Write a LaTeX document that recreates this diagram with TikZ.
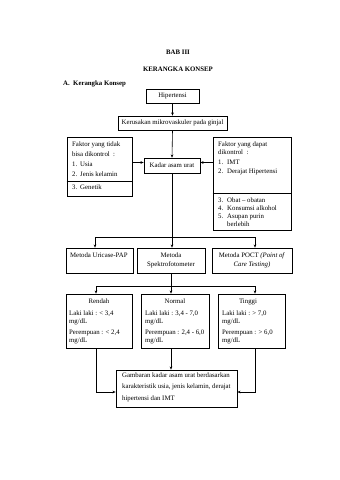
\documentclass[tikz,border=0pt]{standalone}
\usepackage{fontspec}
\setmainfont{Liberation Serif}
\usetikzlibrary{arrows.meta,fit}
\newcount\tlc
\newcommand\tline[3]{\global\advance\tlc by 1\relax\node[txt,anchor=base west] (t\the\tlc) at (#1,#2) {#3};}
\newcommand\tcen[3]{\global\advance\tlc by 1\relax\node[txt,anchor=base] (t\the\tlc) at (#1,#2) {#3};}
\begin{document}
\begin{tikzpicture}[x=1pt,y=-1pt,
  txt/.style={inner sep=0pt,font=\fontsize{6.8}{8}\selectfont},
  head/.style={inner sep=0pt,font=\bfseries\fontsize{6.8}{8}\selectfont},
  box/.style={draw,line width=0.6pt,inner sep=0pt,rectangle},
  ln/.style={line width=0.6pt},
  arr/.style={line width=0.6pt,-{Stealth[length=3.2pt,width=2.6pt]}}]
\useasboundingbox[fill=white] (0,0) rectangle (340,480);
% headings
\node[head,anchor=base] (bab) at (178,54.3) {BAB III};
\node[head,anchor=base] (kk) at (178,71.3) {KERANGKA KONSEP};
\node[head,anchor=base west] (sub) at (63,85.3) {A.\ \ Kerangka Konsep};
% boxes
\node[box,fit={(146,89)(199,103)},label={[txt]center:Hipertensi}] (hip) {};
\node[box,fit={(118,116)(227,130)},label={[txt]center:Kerusakan mikrovaskuler pada ginjal}] (ker) {};
\node[box,fit={(144,158)(200,173)},label={[txt]center:Kadar asam urat}] (kad) {};
\node[box,fit={(67,137)(132,196)}] (lb) {};
\node[box,fit={(213,137)(291,230)}] (rb) {};
\draw[ln] (lb.west |- 0,181) -- (lb.east |- 0,181);
\draw[ln] (rb.west |- 0,193) -- (rb.east |- 0,193);
\node[box,fit={(66,248)(133,273)}] (m1) {};
\node[box,fit={(137,248)(205,273)}] (m2) {};
\node[box,fit={(212,248)(292,273)}] (m3) {};
\node[box,fit={(66,294)(132,348)}] (ren) {};
\node[box,fit={(141,294)(209,348)}] (nor) {};
\node[box,fit={(218,294)(285,348)}] (tin) {};
\node[box,fit={(116,370)(237,407)}] (fin) {};
% left box text
\tline{72}{146.3}{Faktor yang tidak}
\tline{72}{156.3}{bisa dikontrol\ \ :}
\tline{72}{166.3}{1.}\tline{80}{166.3}{Usia}
\tline{72}{176.3}{2.}\tline{80}{176.3}{Jenis kelamin}
\tline{72}{189.3}{3.}\tline{80}{189.3}{Genetik}
% right box text
\tline{218}{146.3}{Faktor yang dapat}
\tline{218}{154.8}{dikontrol\ \ :}
\tline{218}{164.3}{1.}\tline{227}{164.3}{IMT}
\tline{218}{173.3}{2.}\tline{227}{173.3}{Derajat Hipertensi}
\tline{218}{202.3}{3.}\tline{227}{202.3}{Obat – obatan}
\tline{218}{210.3}{4.}\tline{227}{210.3}{Konsumsi alkohol}
\tline{218}{218.3}{5.}\tline{227}{218.3}{Asupan purin}
\tline{227}{226.3}{berlebih}
% method boxes
\tline{70}{257.3}{Metoda Uricase-PAP}
\tcen{171}{257.3}{Metoda}
\tcen{171}{266.3}{Spektrofotometer}
\tcen{252}{257.3}{Metoda POCT \textit{(Point of}}
\tcen{252}{266.3}{\textit{Care Testing)}}
% result boxes
\tcen{99}{303.3}{Rendah}
\tline{69}{315.3}{Laki laki : < 3,4}
\tline{69}{323.3}{mg/dL}
\tline{69}{334.3}{Perempuan : < 2,4}
\tline{69}{342.3}{mg/dL}
\tcen{175}{303.3}{Normal}
\tline{145}{315.3}{Laki laki : 3,4 - 7,0}
\tline{145}{323.3}{mg/dL}
\tline{145}{334.3}{Perempuan : 2,4 - 6,0}
\tline{145}{342.3}{mg/dL}
\tcen{248}{303.3}{Tinggi}
\tline{222}{315.3}{Laki laki : > 7,0}
\tline{222}{323.3}{mg/dL}
\tline{222}{334.3}{Perempuan : > 6,0}
\tline{222}{342.3}{mg/dL}
% final box
\tline{122}{377.3}{Gambaran kadar asam urat berdasarkan}
\tline{122}{388.8}{karakteristik usia, jenis kelamin, derajat}
\tline{122}{400.3}{hipertensi dan IMT}
% connectors
\draw[arr] (hip.south) -- (ker.north);
\draw[arr] (ker.south) -- (kad.north);
\draw[arr] ([yshift=3pt]kad.west -| lb.east) -- ([yshift=3pt]kad.west);
\draw[arr] ([yshift=3pt]kad.east -| rb.west) -- ([yshift=3pt]kad.east);
\coordinate (a1) at (95,237);
\coordinate (a3) at (255,237);
\draw[ln] (kad.south) -- (kad.south |- a1);
\draw[ln] (a1) -- (a3);
\draw[arr] (a1) -- (a1 |- m1.north);
\draw[arr] (kad.south |- a1) -- (kad.south |- m2.north);
\draw[arr] (a3) -- (a3 |- m3.north);
\coordinate (b1) at (96,286);
\coordinate (b3) at (255,286);
\draw[ln] (m2.south) -- (m2.south |- b1);
\draw[ln] (b1) -- (b3);
\draw[arr] (b1) -- (b1 |- ren.north);
\draw[arr] (m2.south |- b1) -- (m2.south |- nor.north);
\draw[arr] (b3) -- (b3 |- tin.north);
\draw[arr] (b1 |- ren.south) |- ([yshift=-3.5pt]fin.west);
\draw[arr] (b3 |- tin.south) |- ([yshift=-3.5pt]fin.east);
\draw[arr] (m2.south |- nor.south) -- (m2.south |- fin.north);
\end{tikzpicture}
\end{document}
